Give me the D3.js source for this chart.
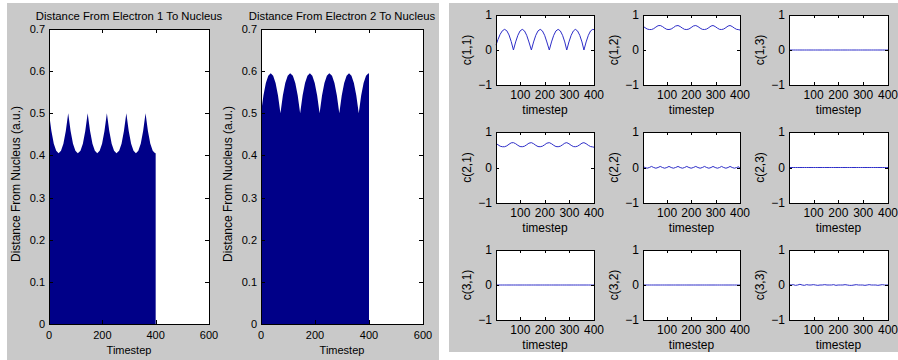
<!DOCTYPE html>
<html>
<head>
<meta charset="utf-8">
<script src="https://cdn.jsdelivr.net/npm/d3@7"></script>
<style>
  body { margin: 0; background: #fff; }
  text { font-family: "Liberation Sans", Arial, sans-serif; fill: #000; }
  .num { font-family: "Liberation Sans Narrow", "Liberation Sans", Arial, sans-serif; }
</style>
</head>
<body>
<div id="chart"></div>
<script>
// ---- distance plots (left figure) ----
const distT = [0, 9, 18, 27, 36, 45, 54, 63,
  72, 81, 90, 99, 108, 118, 127, 136,
  145, 154, 163, 172, 181, 190, 199, 208,
  217, 226, 235, 244, 253, 263, 272, 281,
  290, 299, 308, 317, 326, 335, 344, 353,
  362, 371, 380, 389, 398, 400];
const electron1 = [0.50, 0.458, 0.428, 0.411, 0.405, 0.411, 0.428, 0.458,
  0.50, 0.458, 0.428, 0.411, 0.405, 0.411, 0.428, 0.458,
  0.50, 0.458, 0.428, 0.411, 0.405, 0.411, 0.428, 0.458,
  0.50, 0.458, 0.428, 0.411, 0.405, 0.411, 0.428, 0.458,
  0.50, 0.458, 0.428, 0.411, 0.405, 0.411, 0.428, 0.458,
  0.50, 0.458, 0.428, 0.411, 0.405, 0.406];
const electron2 = [0.50, 0.542, 0.572, 0.589, 0.595, 0.589, 0.572, 0.542,
  0.50, 0.542, 0.572, 0.589, 0.595, 0.589, 0.572, 0.542,
  0.50, 0.542, 0.572, 0.589, 0.595, 0.589, 0.572, 0.542,
  0.50, 0.542, 0.572, 0.589, 0.595, 0.589, 0.572, 0.542,
  0.50, 0.542, 0.572, 0.589, 0.595, 0.589, 0.572, 0.542,
  0.50, 0.542, 0.572, 0.589, 0.595, 0.594];
const distTitles = ["Distance From Electron 1 To Nucleus", "Distance From Electron 2 To Nucleus"];
const distXTicks = [0, 200, 400, 600];
const distYTicks = [0, 0.1, 0.2, 0.3, 0.4, 0.5, 0.6, 0.7];

// ---- coefficient plots (right figure) ----
const coefT = [1, 9, 18, 27, 36, 45, 54, 63, 72,
  81, 90, 99, 108, 117, 126, 135, 145,
  154, 163, 172, 181, 190, 199, 208, 218,
  227, 236, 245, 254, 263, 272, 281, 289,
  298, 307, 316, 324, 333, 342, 351, 359,
  368, 377, 386, 395, 400];
const c11 = [0.14, 0.30, 0.45, 0.55, 0.59, 0.55, 0.43, 0.24, 0.0,
  0.23, 0.42, 0.545, 0.59, 0.545, 0.42, 0.23, 0.0,
  0.23, 0.42, 0.545, 0.59, 0.545, 0.42, 0.23, 0.0,
  0.23, 0.42, 0.545, 0.59, 0.545, 0.42, 0.23, 0.0,
  0.23, 0.42, 0.545, 0.59, 0.545, 0.42, 0.23, 0.0,
  0.23, 0.42, 0.545, 0.59, 0.58];
const c12 = [0.68, 0.64, 0.60, 0.585, 0.585, 0.61, 0.655, 0.695, 0.70,
  0.67, 0.625, 0.59, 0.585, 0.60, 0.64, 0.685, 0.70,
  0.67, 0.625, 0.59, 0.585, 0.60, 0.64, 0.685, 0.70,
  0.67, 0.625, 0.59, 0.585, 0.60, 0.64, 0.685, 0.70,
  0.67, 0.625, 0.59, 0.585, 0.60, 0.64, 0.685, 0.70,
  0.67, 0.625, 0.59, 0.58, 0.57];
const c21 = c12.slice();
const c22 = [0.03, 0.0, -0.02, 0.0, 0.03, 0.0, -0.02, 0.0, 0.03,
  0.0, -0.02, 0.0, 0.03, 0.0, -0.02, 0.0, 0.03,
  0.0, -0.02, 0.0, 0.03, 0.0, -0.02, 0.0, 0.03,
  0.0, -0.02, 0.0, 0.03, 0.0, -0.02, 0.0, 0.03,
  0.0, -0.02, 0.0, 0.03, 0.0, -0.02, 0.0, 0.03,
  0.0, -0.02, 0.0, 0.02, -0.03];
const c33 = [0.02, 0.0, 0.01, -0.01, 0.0, 0.02, 0.0, -0.01, 0.01,
  0.0, 0.0, 0.01, 0.0, -0.01, 0.0, 0.0, 0.01,
  0.0, 0.0, 0.0, 0.01, -0.01, 0.0, 0.0, 0.0,
  0.01, 0.0, -0.01, -0.01, 0.0, 0.01, 0.0, 0.0,
  0.0, -0.01, 0.0, 0.01, 0.0, 0.0, 0.0, -0.01,
  0.0, 0.01, 0.0, 0.0, 0.0];
const zeros = coefT.map(() => 0);
const coefSeries = [[c11, c12, zeros], [c21, c22, zeros], [zeros, zeros, c33]];
const coefXTicks = [100, 200, 300, 400];
const coefYTicks = [-1, 0, 1];

const W = 898, H = 360;
const navy = "#000088", lineBlue = "#2e2ec8", gray = "#c9c9c9";

const svg = d3.select("#chart").append("svg")
  .attr("width", W).attr("height", H);
svg.append("rect").attr("width", W).attr("height", H).attr("fill", "#fff");

// figure backgrounds
svg.append("rect").attr("x", 7).attr("y", 3).attr("width", 432).attr("height", 357).attr("fill", gray);
svg.append("rect").attr("x", 449).attr("y", 3).attr("width", 449).attr("height", 349).attr("fill", gray);

// MATLAB style box with inward ticks on all four sides
function drawBox(g, x, y, xTicks, yTicks, tickLen, fmtX, fmtY, fontSize, xLabelGap) {
  const [x0, x1] = x.range();
  const [y0, y1] = y.range(); // y0 bottom, y1 top
  g.append("rect").attr("x", x0).attr("y", y1)
    .attr("width", x1 - x0).attr("height", y0 - y1)
    .attr("fill", "#fff");
  return function finish() {
    g.append("rect").attr("x", x0 + 0.5).attr("y", y1 + 0.5)
      .attr("width", x1 - x0).attr("height", y0 - y1)
      .attr("fill", "none").attr("stroke", "#000").attr("stroke-width", 1);
    xTicks.forEach(v => {
      const px = Math.round(x(v)) + 0.5;
      g.append("line").attr("x1", px).attr("x2", px).attr("y1", y0).attr("y2", y0 - tickLen).attr("stroke", "#000");
      g.append("line").attr("x1", px).attr("x2", px).attr("y1", y1).attr("y2", y1 + tickLen).attr("stroke", "#000");
      g.append("text").attr("class", "num").attr("x", x(v)).attr("y", y0 + fontSize + xLabelGap)
        .attr("text-anchor", "middle").attr("font-size", fontSize).text(fmtX(v));
    });
    yTicks.forEach(v => {
      const py = Math.round(y(v)) + 0.5;
      g.append("line").attr("x1", x0).attr("x2", x0 + tickLen).attr("y1", py).attr("y2", py).attr("stroke", "#000");
      g.append("line").attr("x1", x1).attr("x2", x1 - tickLen).attr("y1", py).attr("y2", py).attr("stroke", "#000");
      g.append("text").attr("class", "num").attr("x", x0 - 4).attr("y", y(v) + fontSize * 0.36)
        .attr("text-anchor", "end").attr("font-size", fontSize).text(fmtY(v));
    });
  };
}

// left figure: two filled distance plots
const distBoxes = [[49, 209], [261, 423]];
const distData = [electron1, electron2];
distBoxes.forEach((bx, i) => {
  const g = svg.append("g");
  const x = d3.scaleLinear().domain([0, 600]).range(bx);
  const y = d3.scaleLinear().domain([0, 0.7]).range([324, 29]);
  const finish = drawBox(g, x, y, distXTicks, distYTicks, 4, d3.format("d"), v => v === 0 ? "0" : d3.format(".1f")(v), 11, 4);

  const area = d3.area()
    .x((d, j) => x(distT[j]))
    .y0(y(0))
    .y1(d => y(d));
  g.append("path").datum(distData[i]).attr("fill", navy).attr("d", area);
  finish();

  const cx = (bx[0] + bx[1]) / 2;
  g.append("text").attr("x", cx).attr("y", 20).attr("text-anchor", "middle")
    .attr("font-size", 11.3).text(distTitles[i]);
  g.append("text").attr("x", cx).attr("y", 354).attr("text-anchor", "middle")
    .attr("font-size", 11).text("Timestep");
  g.append("text").attr("transform", `translate(${bx[0] - 29},184) rotate(-90)`)
    .attr("text-anchor", "middle").attr("font-size", 12).text("Distance From Nucleus (a.u.)");
});

// right figure: 3x3 coefficient grid
const cols = [[496, 594], [643, 740], [789, 888]];
const rows = [[85, 15], [203, 132], [320, 250]];
rows.forEach((ry, r) => {
  cols.forEach((cx, c) => {
    const g = svg.append("g");
    const x = d3.scaleLinear().domain([1, 400]).range(cx);
    const y = d3.scaleLinear().domain([-1, 1]).range(ry);
    const finish = drawBox(g, x, y, coefXTicks, coefYTicks, 3, d3.format("d"), d3.format("d"), 12, 2);
    const line = d3.line()
      .x((d, j) => x(coefT[j]))
      .y(d => y(d));
    g.append("path").datum(coefSeries[r][c]).attr("fill", "none")
      .attr("stroke", lineBlue).attr("stroke-width", 1).attr("d", line);
    finish();
    g.append("text").attr("x", (cx[0] + cx[1]) / 2).attr("y", ry[0] + 29)
      .attr("text-anchor", "middle").attr("font-size", 12).text("timestep");
    g.append("text").attr("transform", `translate(${cx[0] - 25},${(ry[0] + ry[1]) / 2}) rotate(-90)`)
      .attr("text-anchor", "middle").attr("font-size", 12).text(`c(${r + 1},${c + 1})`);
  });
});
</script>
</body>
</html>
